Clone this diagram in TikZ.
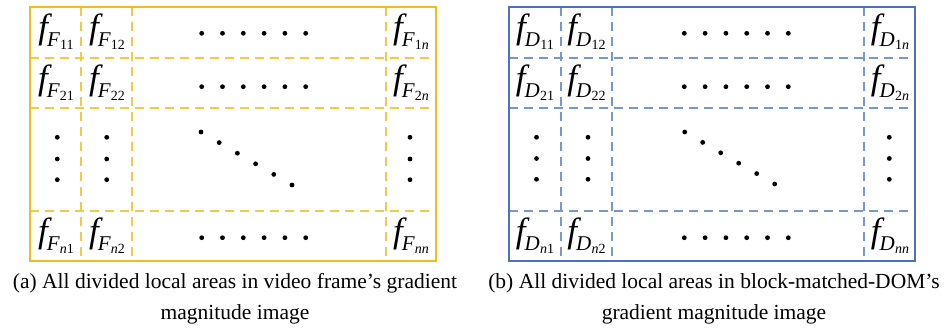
\documentclass[tikz,border=0pt]{standalone}
\usepackage{fontspec}
\setmainfont{Liberation Serif}
\definecolor{ybord}{RGB}{242,188,30}
\definecolor{ydash}{RGB}{245,200,70}
\definecolor{bbord}{RGB}{78,112,196}
\definecolor{bdash}{RGB}{120,150,208}
\newcommand{\flab}[2]{{\fontsize{35}{35}\selectfont\itshape f}\kern-1pt\raisebox{-8pt}{\fontsize{21}{21}\selectfont\itshape #1\kern0.3pt\raisebox{-3pt}{\fontsize{14}{14}\selectfont\upshape #2}}}
\begin{document}
\begin{tikzpicture}[x=1pt,y=-1pt,
  border/.style={line width=2.6pt},
  grid/.style={line width=1.3pt, dash pattern=on 9pt off 6pt},
  dotm/.style={fill=black, circle, inner sep=0pt, minimum size=4.8pt},
  lab/.style={anchor=base, inner sep=0pt},
  captext/.style={align=center, font=\fontsize{21.5}{31}\selectfont}]
\useasboundingbox (0,0) rectangle (950,331);
% ---------- left frame ----------
\begin{scope}[color=ydash]
\draw[grid] (81,7) -- (81,261);
\draw[grid] (132,7) -- (132,261);
\draw[grid] (386,7) -- (386,261);
\draw[grid] (30,58) -- (436,58);
\draw[grid] (30,108) -- (436,108);
\draw[grid] (30,211) -- (436,211);
\end{scope}
\draw[border, ybord] (30,7) rectangle (436,261);
\node[lab] (a11) at (56,38.5) {\flab{F}{11}};
\node[lab] (a12) at (107,38.5) {\flab{F}{12}};
\node[lab] (a1n) at (411,38.5) {\flab{F}{1\textit{n}}};
\node[lab] (a21) at (56,89.5) {\flab{F}{21}};
\node[lab] (a22) at (107,89.5) {\flab{F}{22}};
\node[lab] (a2n) at (411,89.5) {\flab{F}{2\textit{n}}};
\node[lab] (an1) at (56,242) {\flab{F}{\textit{n}1}};
\node[lab] (an2) at (107,242) {\flab{F}{\textit{n}2}};
\node[lab] (ann) at (411,242) {\flab{F}{\textit{nn}}};
\foreach \i in {0,...,5} {
  \node[dotm] (ar1d\i) at (201.7+20.8*\i,33.3) {};
  \node[dotm] (ar2d\i) at (201.7+20.8*\i,86.7) {};
  \node[dotm] (ar4d\i) at (201.7+20.8*\i,237.7) {};
  \node[dotm] (add\i) at (201+18.2*\i,132+10.6*\i) {};
}
\foreach \y [count=\k] in {137.3,159,179.7} {
  \node[dotm] (ac1d\k) at (57.3,\y) {};
  \node[dotm] (ac2d\k) at (106.7,\y) {};
  \node[dotm] (acnd\k) at (410,\y) {};
}
\node[captext] (capa) at (235,298.5) {(a) All divided local areas in video frame’s gradient\\magnitude image};
% ---------- right frame ----------
\begin{scope}[color=bdash]
\draw[grid] (561,7) -- (561,261);
\draw[grid] (612,7) -- (612,261);
\draw[grid] (864,7) -- (864,261);
\draw[grid] (509,58) -- (915,58);
\draw[grid] (509,108) -- (915,108);
\draw[grid] (509,211) -- (915,211);
\end{scope}
\draw[border, bbord] (509,7) rectangle (915,261);
\node[lab] (b11) at (535,38.5) {\flab{D}{11}};
\node[lab] (b12) at (586.5,38.5) {\flab{D}{12}};
\node[lab] (b1n) at (890,38.5) {\flab{D}{1\textit{n}}};
\node[lab] (b21) at (535,89.5) {\flab{D}{21}};
\node[lab] (b22) at (586.5,89.5) {\flab{D}{22}};
\node[lab] (b2n) at (890,89.5) {\flab{D}{2\textit{n}}};
\node[lab] (bn1) at (535,242) {\flab{D}{\textit{n}1}};
\node[lab] (bn2) at (586.5,242) {\flab{D}{\textit{n}2}};
\node[lab] (bnn) at (890,242) {\flab{D}{\textit{nn}}};
\foreach \i in {0,...,5} {
  \node[dotm] (br1d\i) at (684.3+20.8*\i,33.3) {};
  \node[dotm] (br2d\i) at (684.3+20.8*\i,86.7) {};
  \node[dotm] (br4d\i) at (684.3+20.8*\i,237.7) {};
  \node[dotm] (bdd\i) at (684.7+18*\i,132+10.4*\i) {};
}
\foreach \y [count=\k] in {137.3,158.5,179.3} {
  \node[dotm] (bc1d\k) at (536.5,\y) {};
  \node[dotm] (bc2d\k) at (588,\y) {};
  \node[dotm] (bcnd\k) at (889.3,\y) {};
}
\node[captext] (capb) at (714,298.5) {(b) All divided local areas in block-matched-DOM’s\\gradient magnitude image};
\end{tikzpicture}
\end{document}
